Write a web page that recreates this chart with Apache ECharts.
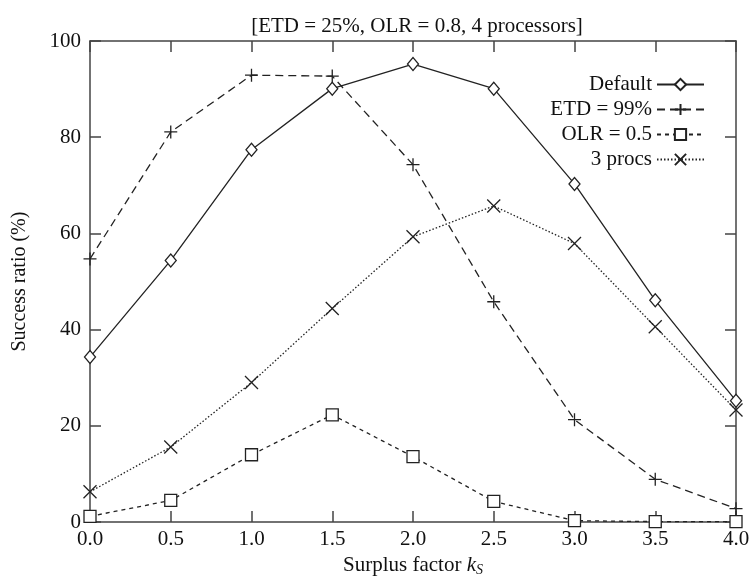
<!DOCTYPE html>
<html>
<head>
<meta charset="utf-8">
<script src="https://cdn.jsdelivr.net/npm/echarts@6/dist/echarts.min.js"></script>
<style>html,body{margin:0;padding:0;background:#fff}#c{width:755px;height:582px}</style>
</head>
<body>
<div id="c"></div>
<script>
const xValues = [0, 0.5, 1.0, 1.5, 2.0, 2.5, 3.0, 3.5, 4.0];
const defaultVals = [34.3, 54.4, 77.4, 90.1, 95.2, 90.1, 70.3, 46.1, 25.2];
const etd99Vals = [54.7, 81.1, 92.9, 92.7, 74.3, 45.8, 21.3, 8.9, 2.8];
const olr05Vals = [1.2, 4.5, 14.0, 22.3, 13.6, 4.3, 0.3, 0.1, 0.1];
const procs3Vals = [6.3, 15.6, 29.0, 44.4, 59.3, 65.7, 57.9, 40.6, 23.3];
const seriesNames = ['Default', 'ETD = 99%', 'OLR = 0.5', '3 procs'];
const titleText = '[ETD = 25%, OLR = 0.8, 4 processors]';

const FONT = 'Liberation Serif';
const INK = '#222';
const AX = '#444';

function pairs(vals) { return xValues.map((x, i) => [x, vals[i]]); }

const PLUS = 'path://M0,5L10,5M5,0L5,10';
const CROSS = 'path://M0,0L10,10M10,0L0,10';

function mk(name, vals, symbol, size, lineType) {
  return {
    name: name,
    type: 'line',
    data: pairs(vals),
    symbol: symbol,
    symbolSize: size,
    showAllSymbol: true,
    clip: false,
    lineStyle: { color: INK, width: 1.3, type: lineType },
    itemStyle: { color: '#fff', borderColor: INK, borderWidth: 1.3 },
    emphasis: { disabled: true },
    animation: false
  };
}

const chart = echarts.init(document.getElementById('c'), null, { renderer: 'canvas' });

const tickCommon = { show: true, inside: true, length: 11, lineStyle: { color: AX, width: 1.5 } };
const lineCommon = { show: true, onZero: false, lineStyle: { color: AX, width: 1.5 } };

chart.setOption({
  animation: false,
  backgroundColor: '#fff',
  title: {
    text: titleText,
    left: 412, textAlign: 'center', top: 11,
    textStyle: { fontFamily: FONT, fontSize: 21, fontWeight: 'normal', color: '#111' }
  },
  legend: {
    orient: 'vertical',
    right: 45,
    top: 69,
    align: 'right',
    itemWidth: 47,
    itemHeight: 14,
    itemGap: 4,
    selectedMode: false,
    textStyle: { fontFamily: FONT, fontSize: 21, color: '#111', lineHeight: 21 },
    data: seriesNames
  },
  grid: { left: 90, right: 19, top: 41, bottom: 55 },
  xAxis: [{
    type: 'value', min: 0, max: 4, interval: 0.5,
    position: 'bottom',
    axisLine: lineCommon, axisTick: tickCommon, splitLine: { show: false },
    axisLabel: { margin: 7, fontFamily: FONT, fontSize: 21, color: '#111',
      formatter: v => v.toFixed(1) },
    name: 'Surplus factor {k|k}{s|S}',
    nameLocation: 'middle', nameGap: 30,
    nameTextStyle: { fontFamily: FONT, fontSize: 21, color: '#111',
      rich: {
        k: { fontFamily: FONT, fontSize: 21, fontStyle: 'italic', color: '#111' },
        s: { fontFamily: FONT, fontSize: 14, fontStyle: 'italic', color: '#111', verticalAlign: 'bottom', padding: [9, 0, 0, 0] }
      } }
  }, {
    type: 'value', min: 0, max: 4, interval: 0.5,
    position: 'top',
    axisLine: lineCommon, axisTick: tickCommon, splitLine: { show: false },
    axisLabel: { show: false }
  }],
  yAxis: [{
    type: 'value', min: 0, max: 100, interval: 20,
    position: 'left',
    axisLine: lineCommon, axisTick: tickCommon, splitLine: { show: false },
    axisLabel: { margin: 9, fontFamily: FONT, fontSize: 21, color: '#111' },
    name: 'Success ratio (%)',
    nameLocation: 'middle', nameGap: 60, nameRotate: 90,
    nameTextStyle: { fontFamily: FONT, fontSize: 20, color: '#111' }
  }, {
    type: 'value', min: 0, max: 100, interval: 20,
    position: 'right',
    axisLine: lineCommon, axisTick: tickCommon, splitLine: { show: false },
    axisLabel: { show: false }
  }],
  series: [
    mk(seriesNames[0], defaultVals, 'diamond', [11, 13], 'solid'),
    mk(seriesNames[1], etd99Vals, PLUS, 13, [8, 5]),
    mk(seriesNames[2], olr05Vals, 'rect', 12, [4, 4]),
    mk(seriesNames[3], procs3Vals, CROSS, 13, [1.5, 2])
  ]
});
</script>
</body>
</html>
